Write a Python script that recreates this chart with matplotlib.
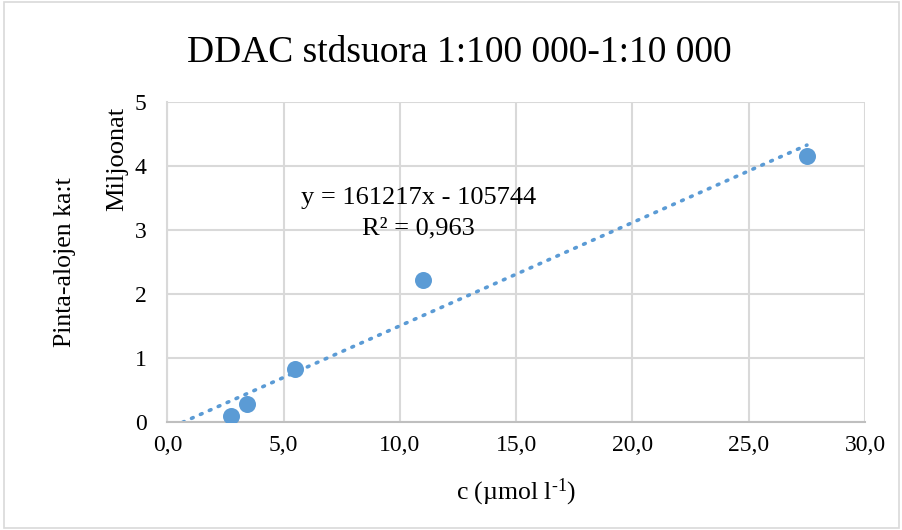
import matplotlib.pyplot as plt
import numpy as np
from matplotlib.patches import Rectangle
from matplotlib.ticker import FuncFormatter, MultipleLocator

plt.rcParams['font.family'] = ['Liberation Serif', 'DejaVu Serif']
plt.rcParams['mathtext.fontset'] = 'custom'
plt.rcParams['mathtext.rm'] = 'Liberation Serif'
plt.rcParams['mathtext.it'] = 'Liberation Serif:italic'

# concentrations (umol/l) and peak areas (millions)
conc = [2.75, 3.44, 5.5, 11.0, 27.5]
area = [0.10, 0.28, 0.83, 2.22, 4.16]
slope = 161217
intercept = -105744
r2_text = "0,963"

blue = '#5B9BD5'
grid_c = '#D9D9D9'

fig = plt.figure(figsize=(9.03, 5.30), dpi=100)
ax = fig.add_axes([0.1853, 0.2032, 0.7727, 0.6043])

# trendline from where it crosses zero to the last point
x0 = -intercept / slope
xt = np.linspace(x0, max(conc), 200)
yt = (slope * xt + intercept) / 1e6
ax.plot(xt, yt, linestyle=(0, (0.5, 2.2)), color=blue, lw=2.6,
        dash_capstyle='round', zorder=2)
ax.scatter(conc, area, s=150, color=blue, zorder=3, linewidths=0)

ax.set_xlim(0, 30)
ax.set_ylim(0, 5)
ax.xaxis.set_major_locator(MultipleLocator(5))
ax.yaxis.set_major_locator(MultipleLocator(1))
ax.xaxis.set_major_formatter(FuncFormatter(lambda v, p: f"{v:.1f}".replace('.', ',')))
ax.yaxis.set_major_formatter(FuncFormatter(lambda v, p: f"{v:.0f}"))
ax.grid(True, color=grid_c, lw=1.5)
ax.set_axisbelow(True)
for s in ['top', 'right']:
    ax.spines[s].set_visible(False)
ax.spines['left'].set_color(grid_c)
ax.spines['left'].set_linewidth(1.5)
ax.spines['bottom'].set_color('#BFBFBF')
ax.spines['bottom'].set_linewidth(1.5)
ax.tick_params(length=0, labelsize=17, pad=9)
ax.tick_params(axis='y', pad=15)

ax.text(10.8, 3.5, f"y = {slope}x - {-intercept}", ha='center', va='center', fontsize=19)
ax.text(10.8, 3.03, f"R² = {r2_text}", ha='center', va='center', fontsize=19)

fig.text(0.509, 0.9, "DDAC stdsuora 1:100 000-1:10 000", ha='center', va='center', fontsize=27)
fig.text(0.13, 0.7, "Miljoonat", rotation=90, ha='center', va='center', fontsize=19)
fig.text(0.072, 0.505, "Pinta-alojen ka:t", rotation=90, ha='center', va='center', fontsize=18.5)
fig.text(0.571, 0.072, "c (µmol l$^{\\text{-1}}$)", ha='center', va='center', fontsize=18.5)

fig.patches.append(Rectangle((0.004, 0.004), 0.992, 0.992, transform=fig.transFigure,
                             fill=False, edgecolor=grid_c, lw=1.2))

fig.savefig('out.png', dpi=100)
